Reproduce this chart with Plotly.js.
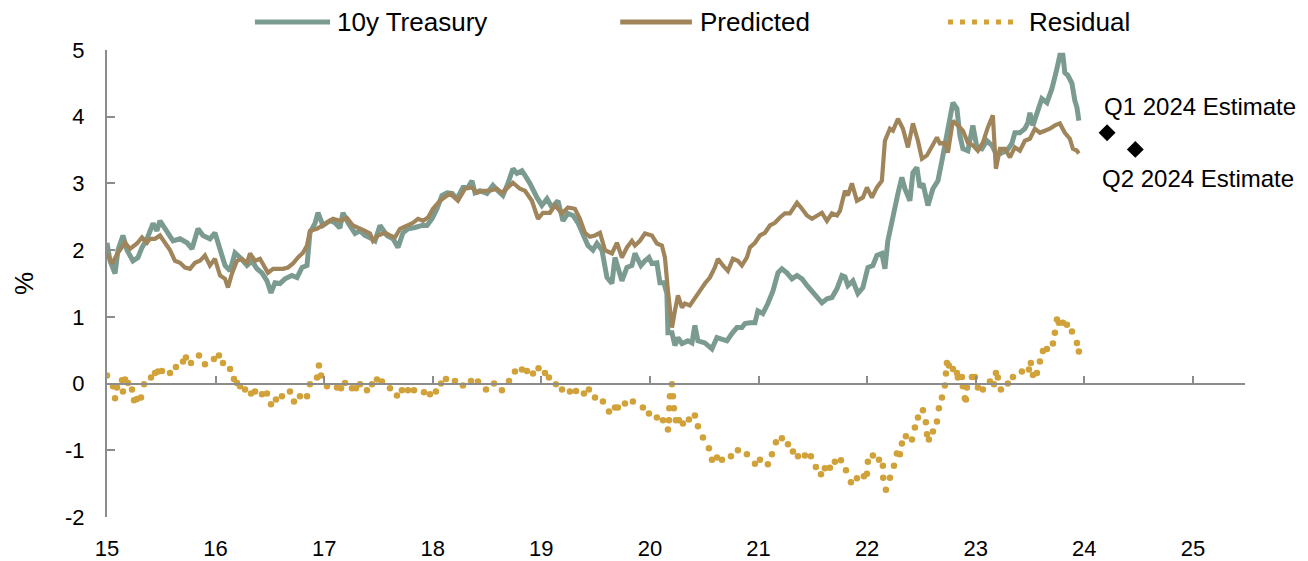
<!DOCTYPE html>
<html>
<head>
<meta charset="utf-8">
<script src="https://cdn.plot.ly/plotly-3.0.1.min.js"></script>
<style>html,body{margin:0;padding:0;background:#fff;}#chart{width:1308px;height:561px;}</style>
</head>
<body>
<div id="chart"></div>
<script>
// ---- Data (x = year, e.g. 15.5 = mid-2015; y = %) ----
const treasuryX = [15.000,15.028,15.074,15.101,15.147,15.184,15.239,15.285,15.322,15.368,15.424,15.460,15.488,15.552,15.608,15.672,15.737,15.783,15.838,15.884,15.948,15.994,16.041,16.087,16.133,16.179,16.225,16.289,16.335,16.381,16.427,16.473,16.510,16.547,16.593,16.639,16.703,16.750,16.796,16.842,16.869,16.915,16.943,16.989,17.053,17.099,17.145,17.173,17.219,17.284,17.330,17.376,17.440,17.468,17.514,17.578,17.634,17.680,17.726,17.772,17.836,17.901,17.947,17.993,18.039,18.085,18.131,18.177,18.223,18.278,18.324,18.361,18.389,18.435,18.499,18.554,18.600,18.646,18.692,18.738,18.775,18.821,18.849,18.895,18.959,19.005,19.052,19.098,19.153,19.199,19.245,19.291,19.337,19.383,19.429,19.475,19.512,19.558,19.604,19.650,19.678,19.705,19.742,19.788,19.834,19.862,19.917,19.954,19.991,20.018,20.064,20.092,20.129,20.156,20.166,20.203,20.230,20.258,20.295,20.350,20.387,20.414,20.442,20.506,20.571,20.617,20.663,20.709,20.755,20.801,20.847,20.875,20.921,20.967,20.994,21.040,21.086,21.133,21.179,21.215,21.261,21.308,21.354,21.400,21.446,21.492,21.538,21.584,21.630,21.676,21.722,21.768,21.796,21.823,21.869,21.915,21.961,22.007,22.053,22.090,22.136,22.164,22.191,22.228,22.256,22.284,22.320,22.348,22.394,22.422,22.458,22.486,22.514,22.560,22.606,22.652,22.689,22.735,22.762,22.790,22.827,22.854,22.882,22.928,22.974,23.011,23.057,23.103,23.149,23.195,23.241,23.287,23.333,23.361,23.407,23.453,23.481,23.499,23.527,23.573,23.609,23.656,23.702,23.748,23.775,23.803,23.821,23.849,23.886,23.913,23.932,23.950];
const treasuryY = [2.11,1.84,1.65,2.00,2.22,2.00,1.84,1.89,2.04,2.17,2.40,2.29,2.44,2.29,2.14,2.17,2.11,2.02,2.32,2.22,2.17,2.26,2.00,1.77,1.69,1.96,1.89,1.77,1.84,1.72,1.66,1.54,1.36,1.51,1.50,1.57,1.62,1.59,1.74,1.77,2.26,2.40,2.56,2.37,2.44,2.41,2.33,2.56,2.41,2.25,2.29,2.22,2.17,2.14,2.37,2.22,2.17,2.04,2.26,2.32,2.34,2.37,2.37,2.47,2.62,2.82,2.86,2.85,2.77,2.94,2.94,3.04,2.86,2.89,2.85,2.97,2.89,2.82,3.00,3.22,3.15,3.19,3.12,3.00,2.79,2.67,2.77,2.64,2.74,2.44,2.55,2.52,2.41,2.22,2.07,2.00,2.10,2.00,1.59,1.50,1.89,1.74,1.54,1.74,1.77,1.95,1.77,1.84,1.89,1.80,1.81,1.51,1.51,1.35,0.76,0.76,0.57,0.69,0.60,0.64,0.61,0.87,0.64,0.61,0.52,0.69,0.67,0.64,0.75,0.84,0.84,0.90,0.91,0.91,1.09,1.05,1.20,1.39,1.66,1.72,1.66,1.57,1.62,1.57,1.47,1.39,1.29,1.21,1.27,1.29,1.42,1.62,1.60,1.47,1.54,1.35,1.44,1.74,1.77,1.92,1.95,1.72,2.14,2.44,2.70,2.85,3.09,2.92,2.74,3.16,3.24,2.94,3.00,2.67,2.92,3.04,3.34,3.76,3.94,4.21,4.12,3.72,3.52,3.49,3.87,3.54,3.52,3.64,3.57,3.42,3.46,3.49,3.60,3.76,3.76,3.82,3.91,4.06,3.87,4.09,4.27,4.21,4.42,4.72,4.92,4.92,4.66,4.62,4.50,4.24,4.14,3.94];

const predictedX = [15.000,15.046,15.101,15.166,15.212,15.276,15.322,15.368,15.396,15.442,15.488,15.534,15.580,15.626,15.672,15.718,15.764,15.810,15.856,15.902,15.948,15.994,16.041,16.087,16.114,16.151,16.197,16.243,16.289,16.317,16.363,16.409,16.455,16.482,16.529,16.575,16.621,16.667,16.713,16.759,16.805,16.842,16.869,16.934,16.980,17.026,17.081,17.145,17.210,17.265,17.311,17.376,17.422,17.449,17.495,17.560,17.606,17.652,17.698,17.762,17.818,17.864,17.910,17.956,18.002,18.066,18.112,18.158,18.232,18.297,18.361,18.407,18.462,18.527,18.591,18.637,18.692,18.738,18.803,18.849,18.913,18.969,19.015,19.079,19.125,19.190,19.245,19.309,19.355,19.401,19.447,19.494,19.540,19.586,19.650,19.696,19.742,19.788,19.834,19.862,19.908,19.954,20.018,20.064,20.110,20.138,20.166,20.203,20.230,20.258,20.295,20.322,20.368,20.414,20.460,20.506,20.552,20.598,20.626,20.672,20.718,20.764,20.810,20.847,20.893,20.921,20.967,21.013,21.059,21.105,21.151,21.197,21.243,21.289,21.354,21.400,21.446,21.492,21.538,21.584,21.630,21.676,21.722,21.750,21.796,21.823,21.860,21.906,21.961,21.998,22.044,22.090,22.136,22.164,22.210,22.238,22.284,22.330,22.376,22.422,22.468,22.505,22.551,22.606,22.643,22.670,22.716,22.744,22.790,22.836,22.882,22.928,22.974,23.020,23.066,23.112,23.158,23.186,23.223,23.269,23.315,23.361,23.407,23.453,23.499,23.545,23.591,23.637,23.683,23.729,23.775,23.821,23.867,23.895,23.932,23.950];
const predictedY = [1.95,1.80,1.96,2.11,2.02,2.10,2.19,2.11,2.17,2.17,2.22,2.11,2.00,1.84,1.81,1.74,1.72,1.81,1.84,1.92,1.77,1.87,1.62,1.57,1.44,1.65,1.84,1.87,1.81,1.95,1.84,1.87,1.72,1.66,1.72,1.72,1.72,1.74,1.80,1.89,1.96,2.07,2.29,2.32,2.37,2.41,2.47,2.44,2.48,2.37,2.34,2.29,2.25,2.14,2.22,2.26,2.22,2.19,2.32,2.37,2.41,2.47,2.44,2.49,2.62,2.74,2.79,2.85,2.74,2.92,2.94,2.86,2.89,2.89,2.92,2.86,2.94,3.01,2.92,2.89,2.74,2.47,2.56,2.56,2.67,2.55,2.64,2.62,2.47,2.26,2.20,2.22,2.26,2.00,1.95,2.11,1.89,2.04,2.14,2.07,2.14,2.25,2.22,2.10,2.07,1.89,1.39,0.84,1.09,1.32,1.14,1.20,1.17,1.29,1.39,1.50,1.59,1.74,1.87,1.77,1.69,1.87,1.84,1.77,1.89,2.04,2.11,2.22,2.26,2.37,2.41,2.49,2.55,2.55,2.71,2.62,2.52,2.47,2.52,2.56,2.44,2.55,2.52,2.59,2.89,2.82,3.00,2.74,2.79,2.94,2.79,2.94,3.04,3.64,3.82,3.79,3.97,3.82,3.54,3.90,3.64,3.37,3.42,3.57,3.69,3.60,3.61,3.46,3.94,3.87,3.79,3.61,3.57,3.49,3.61,3.84,4.02,3.22,3.52,3.52,3.39,3.54,3.49,3.64,3.67,3.82,3.76,3.79,3.82,3.87,3.90,3.76,3.67,3.52,3.49,3.45];

const residualX = [15.000,15.055,15.074,15.092,15.138,15.147,15.166,15.193,15.230,15.249,15.276,15.313,15.341,15.405,15.442,15.470,15.506,15.580,15.635,15.700,15.727,15.773,15.847,15.902,15.985,16.031,16.068,16.133,16.169,16.197,16.225,16.271,16.326,16.363,16.427,16.473,16.510,16.556,16.611,16.685,16.722,16.777,16.842,16.869,16.934,16.952,16.971,17.026,17.118,17.155,17.192,17.256,17.293,17.330,17.394,17.440,17.486,17.532,17.606,17.670,17.716,17.772,17.827,17.919,17.974,18.029,18.076,18.122,18.204,18.278,18.352,18.416,18.490,18.564,18.637,18.702,18.757,18.821,18.867,18.923,18.974,19.033,19.070,19.134,19.190,19.263,19.319,19.392,19.438,19.494,19.567,19.623,19.678,19.705,19.770,19.843,19.935,19.991,20.064,20.120,20.166,20.175,20.178,20.184,20.203,20.212,20.221,20.239,20.267,20.304,20.359,20.414,20.442,20.488,20.543,20.571,20.617,20.663,20.746,20.810,20.893,20.967,21.013,21.086,21.123,21.160,21.215,21.271,21.317,21.363,21.427,21.482,21.528,21.575,21.611,21.657,21.703,21.759,21.805,21.851,21.906,21.970,21.998,22.007,22.053,22.109,22.145,22.148,22.173,22.210,22.247,22.274,22.302,22.320,22.357,22.413,22.440,22.468,22.514,22.541,22.551,22.569,22.606,22.643,22.661,22.689,22.716,22.726,22.735,22.753,22.790,22.827,22.836,22.873,22.882,22.900,22.910,22.919,22.965,22.993,23.020,23.066,23.131,23.168,23.186,23.204,23.232,23.296,23.343,23.425,23.490,23.508,23.527,23.564,23.591,23.619,23.656,23.711,23.729,23.748,23.766,23.803,23.840,23.886,23.932,23.950];
const residualY = [0.12,-0.04,-0.22,-0.06,0.05,-0.12,0.06,0.01,-0.09,-0.25,-0.23,-0.21,-0.01,0.09,0.16,0.18,0.19,0.16,0.25,0.33,0.39,0.31,0.42,0.29,0.37,0.42,0.31,0.22,0.07,0.01,-0.04,-0.09,-0.15,-0.12,-0.16,-0.15,-0.31,-0.24,-0.19,-0.12,-0.27,-0.19,-0.19,-0.01,0.09,0.27,0.12,-0.04,-0.06,-0.07,0.01,-0.07,-0.07,-0.01,-0.10,-0.01,0.06,0.03,-0.07,-0.18,-0.10,-0.10,-0.10,-0.13,-0.16,-0.12,0.00,0.07,0.04,-0.03,0.04,0.03,-0.09,0.00,-0.10,0.04,0.18,0.21,0.19,0.15,0.23,0.16,0.09,-0.01,-0.09,-0.12,-0.11,-0.15,-0.09,-0.21,-0.27,-0.42,-0.36,-0.36,-0.30,-0.27,-0.36,-0.45,-0.51,-0.55,-0.69,-0.55,-0.37,-0.19,-0.01,-0.19,-0.37,-0.55,-0.55,-0.60,-0.54,-0.48,-0.64,-0.81,-0.97,-1.14,-1.11,-1.14,-1.09,-1.00,-1.06,-1.20,-1.14,-1.21,-1.06,-0.88,-0.82,-0.91,-1.02,-1.09,-1.08,-1.09,-1.25,-1.36,-1.27,-1.26,-1.17,-1.15,-1.30,-1.48,-1.42,-1.39,-1.35,-1.17,-1.08,-1.14,-1.23,-1.41,-1.59,-1.41,-1.23,-1.05,-1.06,-0.90,-0.79,-0.84,-0.66,-0.51,-0.40,-0.58,-0.76,-0.84,-0.72,-0.57,-0.37,-0.21,-0.03,0.15,0.31,0.27,0.22,0.16,0.09,0.10,-0.04,-0.22,-0.24,-0.06,0.10,0.10,-0.06,-0.09,0.03,-0.01,0.16,0.09,-0.09,0.00,0.10,0.18,0.21,0.31,0.13,0.16,0.33,0.49,0.52,0.60,0.76,0.96,0.91,0.91,0.88,0.78,0.61,0.48];

const estimateX = [24.21, 24.47];
const estimateY = [3.76, 3.51];
const estimateLabels = ['Q1 2024 Estimate', 'Q2 2024 Estimate'];

const seriesNames = ['10y Treasury', 'Predicted', 'Residual'];
const xTicks = [15,16,17,18,19,20,21,22,23,24,25];
const yTicks = [-2,-1,0,1,2,3,4,5];

// ---- Styles ----
const FONT = '"Liberation Sans", Arial, sans-serif';
const C_T = '#7c9b90';
const C_P = '#a0855a';
const C_R = '#d2a23a';
const AXC = '#8c8c8c';
const XR = [15, 25.48];

const traces = [
  {x: treasuryX, y: treasuryY, type: 'scatter', mode: 'lines', name: seriesNames[0],
   line: {color: C_T, width: 5}, xaxis: 'x', yaxis: 'y'},
  {x: predictedX, y: predictedY, type: 'scatter', mode: 'lines', name: seriesNames[1],
   line: {color: C_P, width: 4.2}, xaxis: 'x', yaxis: 'y'},
  {x: residualX, y: residualY, type: 'scatter', mode: 'markers', name: seriesNames[2],
   marker: {color: C_R, size: 6.5}, xaxis: 'x', yaxis: 'y'},
  {x: estimateX, y: estimateY, type: 'scatter', mode: 'markers', name: 'Estimate',
   marker: {symbol: 'diamond', color: '#000', size: 13}, xaxis: 'x2', yaxis: 'y'}
];

// Legend drawn as paper-positioned symbols + labels (one row, wide spacing)
const legendColors = [C_T, C_P, C_R];
const legendDash = ['solid', 'solid', '5px,7px'];
const legendLineX = [[0.130, 0.196], [0.451, 0.514], [0.739, 0.802]];
const legendTextX = [0.2004, 0.5193, 0.8084];
const LEG_Y = 1.06;

const shapes = legendColors.map((c, i) => ({
  type: 'line', xref: 'paper', yref: 'paper',
  x0: legendLineX[i][0], x1: legendLineX[i][1], y0: LEG_Y, y1: LEG_Y,
  line: {color: c, width: 5, dash: legendDash[i]}
}));

const annotations = seriesNames.map((n, i) => ({
  xref: 'paper', yref: 'paper', x: legendTextX[i], y: LEG_Y, text: n, showarrow: false,
  xanchor: 'left', yanchor: 'middle', font: {family: FONT, size: 26, color: '#000'}
})).concat([
  {x: 25.07, y: 4.16, xref: 'x', yref: 'y', text: estimateLabels[0], showarrow: false,
   font: {family: FONT, size: 24, color: '#000'}, xanchor: 'center', yanchor: 'middle'},
  {x: 25.05, y: 3.07, xref: 'x', yref: 'y', text: estimateLabels[1], showarrow: false,
   font: {family: FONT, size: 24, color: '#000'}, xanchor: 'center', yanchor: 'middle'}
]);

const layout = {
  width: 1308, height: 561,
  margin: {l: 107, r: 63, t: 50, b: 44},
  paper_bgcolor: '#fff', plot_bgcolor: '#fff',
  font: {family: FONT, size: 22, color: '#000'},
  showlegend: false,
  xaxis: {range: XR, tickmode: 'array', tickvals: xTicks, ticktext: xTicks.map(String),
          showline: false, showgrid: false, zeroline: false, ticks: '',
          ticklabelstandoff: 16, tickfont: {family: FONT, size: 22, color: '#000'}, fixedrange: true},
  xaxis2: {range: XR, overlaying: 'x', anchor: 'free', position: 2/7, side: 'bottom',
           tickmode: 'array', tickvals: xTicks, showticklabels: false,
           showline: true, linecolor: AXC, linewidth: 2, ticks: 'inside', ticklen: 7,
           tickwidth: 2, tickcolor: AXC, showgrid: false, zeroline: false, fixedrange: true},
  yaxis: {range: [-2, 5], tickmode: 'array', tickvals: yTicks, ticktext: yTicks.map(String),
          showline: true, linecolor: AXC, linewidth: 2, ticks: 'inside', ticklen: 8,
          tickwidth: 2, tickcolor: AXC, showgrid: false, zeroline: false,
          ticklabelstandoff: 16, tickfont: {family: FONT, size: 22, color: '#000'},
          title: {text: '%', font: {family: FONT, size: 26, color: '#000'}, standoff: 24},
          fixedrange: true},
  shapes: shapes,
  annotations: annotations
};

Plotly.newPlot('chart', traces, layout, {displayModeBar: false, staticPlot: true});
</script>
</body>
</html>
